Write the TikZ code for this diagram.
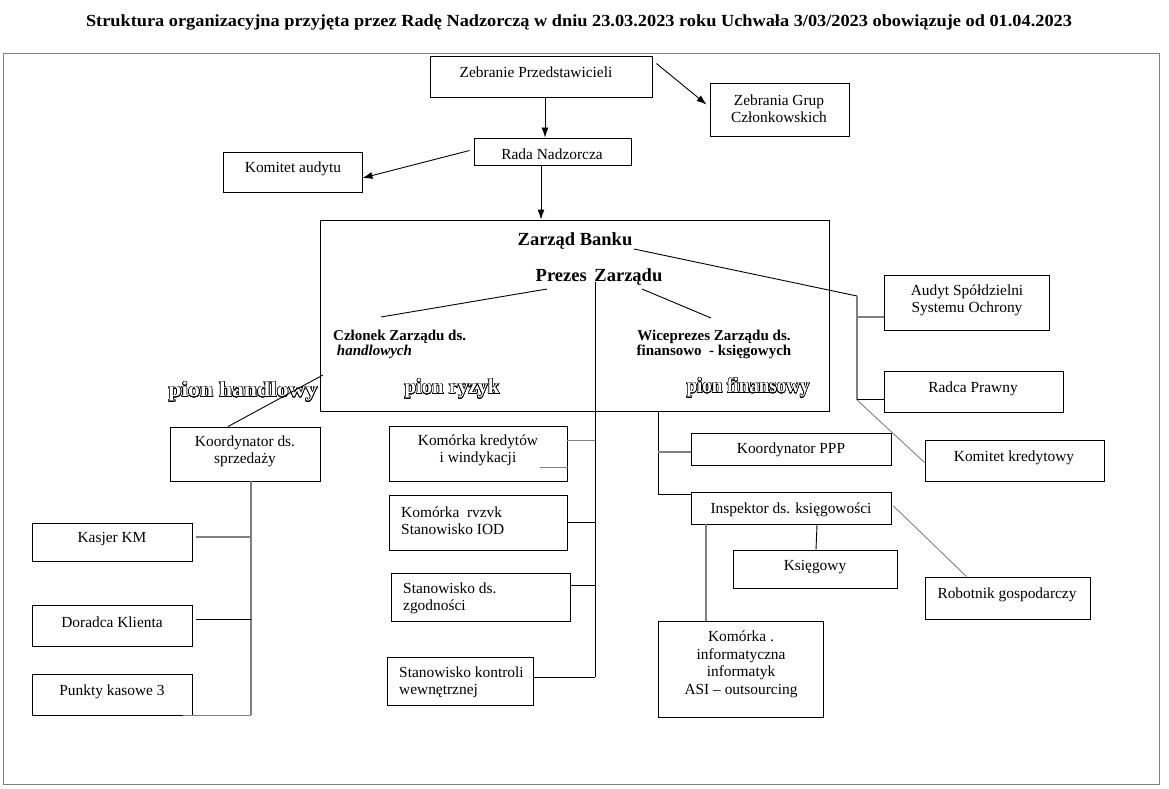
\documentclass[tikz,border=0pt]{standalone}
\usepackage{fontspec}
\setmainfont{Liberation Serif}
\usepackage{graphicx}
\usepackage{contour}
\contourlength{0.55pt}
\contournumber{24}
\usetikzlibrary{arrows.meta,fit}
\newcommand{\piontxt}[2]{\resizebox{#1}{\height}{\contour{black}{\textcolor{white}{#2}}}}
\begin{document}
\begin{tikzpicture}[x=1pt,y=-1pt,
  box/.style={draw, line width=0.9pt, inner sep=0pt},
  txt/.style={inner sep=0pt, yshift=-2.5pt, align=center, font=\fontsize{15.4}{17.5}\selectfont},
  btxt/.style={inner sep=0pt, yshift=-1pt, font=\bfseries\fontsize{15}{15}\selectfont},
  htxt/.style={inner sep=0pt, yshift=-1pt, font=\bfseries\fontsize{18.5}{20}\selectfont},
  piontext/.style={inner sep=0pt, font=\bfseries\fontsize{21}{22}\selectfont},
  ln/.style={line width=0.9pt, black},
  gln/.style={line width=1.1pt, black!50},
  arr/.style={line width=0.9pt, -{Latex[length=10pt,width=7pt]}}
]
\useasboundingbox (0,0) rectangle (1169,789);
% title
\node[inner sep=0pt, font=\bfseries\fontsize{17}{19}\selectfont] (title) at (579,22)
  {\resizebox{986pt}{\height}{Struktura organizacyjna przyjęta przez Radę Nadzorczą w dniu 23.03.2023 roku Uchwała 3/03/2023 obowiązuje od 01.04.2023}};
% outer frame
\node[draw=black!50, line width=1pt, inner sep=0pt, fit={(3,54)(1159,784)}] (frame) {};

% boxes
\node[box, fill=white, fit={(430,56)(652,97)}] (zp) {};
\node[txt] (zpt) at (536,70) {Zebranie Przedstawicieli};
\node[box, fit={(710,83)(849,136)}] (zg) {};
\node[txt] (zgt) at (779,106) {Zebrania Grup\\Członkowskich};
\node[box, fit={(474,138)(631,165)}] (rn) {};
\node[txt] (rnt) at (552,152) {Rada Nadzorcza};
\node[box, fit={(223,152)(362,192)}] (ka) {};
\node[txt] (kat) at (293,166) {Komitet audytu};

\node[box, fit={(320,220)(829,411)}] (zb) {};
\node[htxt] (zbt) at (575,240) {Zarząd Banku};
\node[htxt] (pz) at (599,276) {Prezes\,\ Zarządu};
\node[btxt, anchor=west, align=left] (czl) at (333,343) {Członek Zarządu ds.\\\ \textit{handlowych}};
\node[btxt, align=center] (wice) at (714,343) {Wiceprezes Zarządu ds.\\finansowo\ \ - księgowych};
\node[piontext] (ph) at (243,392) {\piontxt{149pt}{pion handlowy}};
\node[piontext] (pr) at (452,389) {\piontxt{95pt}{pion ryzyk}};
\node[piontext] (pf) at (748,388) {\piontxt{123pt}{pion finansowy}};

\node[box, fit={(170,427)(320,481)}] (ks) {};
\node[txt] (kst) at (245,449) {Koordynator ds.\\sprzedaży};
\node[box, fit={(32,523)(192,561)}] (kasjer) {};
\node[txt] (kasjert) at (112,537) {Kasjer KM};
\node[box, fit={(32,605)(192,646)}] (dor) {};
\node[txt] (dort) at (112,620) {Doradca Klienta};
\node[box, fit={(32,674)(192,715)}] (pk) {};
\node[txt] (pkt) at (112,689) {Punkty kasowe 3};

\node[box, fit={(389,426)(567,481)}] (kkw) {};
\node[txt] (kkwt) at (478,448) {Komórka kredytów\\i windykacji};
\node[box, fit={(389,495)(567,550)}] (kr) {};
\node[txt, anchor=west, align=left] (krt) at (401,518) {Komórka\ \ rvzvk\\Stanowisko IOD};
\node[box, fit={(391,573)(570,621)}] (sz) {};
\node[txt, anchor=west, align=left] (szt) at (403,596) {Stanowisko ds.\\zgodności};
\node[box, fit={(387,657)(533,705)}] (skw) {};
\node[txt, anchor=west, align=left] (skwt) at (399,680) {Stanowisko kontroli\\wewnętrznej};

\node[box, fit={(884,275)(1049,330)}] (aud) {};
\node[txt] (audt) at (967,298) {Audyt Spółdzielni\\Systemu Ochrony};
\node[box, fit={(884,371)(1063,412)}] (rp) {};
\node[txt] (rpt) at (973,386) {Radca Prawny};
\node[box, fit={(925,440)(1104,481)}] (kk) {};
\node[txt] (kkt) at (1014,455) {Komitet kredytowy};
\node[box, fit={(691,433)(891,465)}] (ppp) {};
\node[txt] (pppt) at (791,447) {Koordynator PPP};
\node[box, fit={(691,492)(891,524)}] (insp) {};
\node[txt] (inspt) at (791,507) {Inspektor ds. księgowości};
\node[box, fit={(733,550)(897,588)}] (ksg) {};
\node[txt] (ksgt) at (815,565) {Księgowy};
\node[box, fit={(925,577)(1090,619)}] (rob) {};
\node[txt] (robt) at (1007,592) {Robotnik gospodarczy};
\node[box, fit={(658,621)(823,717)}] (ki) {};
\node[txt] (kit) at (741,662) {Komórka .\\informatyczna\\informatyk\\ASI – outsourcing};

% junction coordinates
\coordinate (pzl) at (547,289);
\coordinate (czlc) at (381,317);
\coordinate (pzr) at (642,289);
\coordinate (wicec) at (711,318);
\coordinate (phc) at (323,375);
\coordinate (ksj) at (251,481);
\coordinate (midtop) at (595,282);
\coordinate (midbot) at (595,677);
\coordinate (fintop) at (658,411);
\coordinate (finbot) at (658,494);
\coordinate (zbl) at (634,249);
\coordinate (rt) at (857,296);
\coordinate (rb) at (857,400);
\coordinate (stubA) at (540,467);
\coordinate (stubB) at (568,467);

% arrows
\draw[arr] ([xshift=4pt]zp.south) -- ([xshift=4pt]zp.south |- rn.north);
\draw[arr] ([shift={(4,8)}]zp.north east) -- ([shift={(-3,22)}]zg.north west);
\draw[arr] ([shift={(-4,-1)}]rn.west) -- ([yshift=-6pt]ka.east);
\draw[arr] ([xshift=-11.5pt]rn.south) -- ([xshift=-11.5pt]rn.south |- zb.north);

% inside board
\draw[ln] (pzl) -- (czlc);
\draw[ln] (pzr) -- (wicec);
\draw[ln] (phc) -- ([xshift=-17pt]ks.north);

% sales column
\draw[gln] (ks.south -| ksj) -- (ksj |- pk.south);
\draw[gln] ([xshift=4pt]kasjer.east |- 0,537) -- (ksj |- 0,537);
\draw[ln] ([xshift=4pt]dor.east |- 0,619) -- (ksj |- 0,619);
\draw[gln] ([xshift=-9pt]pk.south east) -- (ksj |- pk.south);

% risk column
\draw[ln] (midtop) -- (midbot);
\draw[gln, line width=0.9pt] (kkw.east |- 0,440) -- (midtop |- 0,440);
\draw[gln, line width=0.9pt] (stubA) -- (stubB);
\draw[ln] (kr.east |- 0,522) -- (midtop |- 0,522);
\draw[ln] (sz.east |- 0,585) -- (midtop |- 0,585);
\draw[ln] (skw.east |- midbot) -- (midbot);

% finance column
\draw[ln] (fintop) -- (finbot);
\draw[gln] (fintop |- 0,452) -- (ppp.west |- 0,452);
\draw[ln] (finbot) -- (insp.west |- finbot);
\draw[ln] ([xshift=26pt]insp.south) -- ([xshift=25pt]insp.south |- ksg.north);
\draw[gln, line width=0.9pt] ([shift={(2,-2)}]insp.east) -- ([xshift=-41pt]rob.north);
\draw[gln] ([xshift=-85pt]insp.south) -- ([xshift=-85pt]insp.south |- ki.north);

% right side
\draw[ln] (zbl) -- (rt);
\draw[gln] (rt) -- (rb);
\draw[gln] (rt |- 0,317) -- (aud.west |- 0,317);
\draw[ln] (rb |- 0,399) -- (rp.west |- 0,399);
\draw[gln, line width=0.9pt] (rb) -- ([yshift=-2pt]kk.west);
\end{tikzpicture}
\end{document}
